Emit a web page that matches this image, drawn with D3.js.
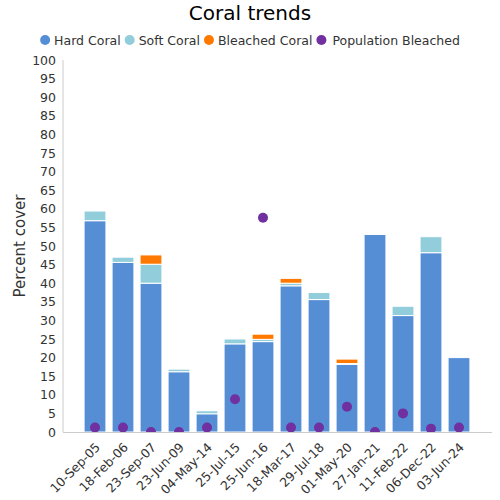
<!DOCTYPE html>
<html><head><meta charset="utf-8">
<script src="https://cdn.jsdelivr.net/npm/d3@7"></script>
<style>body{margin:0;background:#fff}svg{display:block;font-family:"DejaVu Sans",sans-serif}</style>
</head><body><svg id="c" width="500" height="500"></svg>
<script>
const categories=["10-Sep-05","18-Feb-06","23-Sep-07","23-Jun-09","04-May-14","25-Jul-15","25-Jun-16","18-Mar-17","29-Jul-18","01-May-20","27-Jan-21","11-Feb-22","06-Dec-22","03-Jun-24"];
const hardCoral=[56.8,45.6,40.0,16.2,4.9,23.7,24.3,39.3,35.6,18.2,53.1,31.3,48.2,20.0];
const softCoral=[2.6,1.4,5.1,0.7,0.8,1.3,0.6,0.7,1.9,0.2,0,2.5,4.3,0];
const bleachedCoral=[0,0,2.5,0,0,0,1.4,1.3,0,1.2,0,0,0,0];
const populationBleached=[1.2,1.2,0,0,1.2,8.8,57.6,1.2,1.2,6.8,0,5.0,0.9,1.2];
const yTicks=d3.range(0,101,5);
const seriesNames=["Hard Coral","Soft Coral","Bleached Coral","Population Bleached"];
const colors=["#558ed5","#92cddc","#ff7800","#7030a0"];

const svg=d3.select("#c");
const L=63,R=492,T=60,B=432;
const x=d3.scaleBand().domain(categories).range([81,473]).paddingInner(0.22).paddingOuter(0.11);
const y=d3.scaleLinear().domain([0,100]).range([B,T]);

svg.append("defs").append("clipPath").attr("id","pc").append("rect").attr("x",L).attr("y",T-10).attr("width",R-L).attr("height",B-T+10);

// title
svg.append("text").attr("x",250).attr("y",20).attr("text-anchor","middle").attr("font-size",20).attr("fill","#000").text("Coral trends");

// legend
const lg=svg.append("g");
let lx=0;
seriesNames.forEach((n,i)=>{
  const g=lg.append("g").attr("transform",`translate(${lx},0)`);
  g.append("circle").attr("cx",5).attr("cy",0).attr("r",5).attr("fill",colors[i]);
  const off=i===3?16:14;
  const t=g.append("text").attr("x",off).attr("y",4.5).attr("font-size",12.5).attr("fill","#333").text(n);
  lx+= off+t.node().getComputedTextLength()+4;
});
lg.attr("transform",`translate(${250-(lx-4)/2},40)`);

// y axis
const ya=svg.append("g");
ya.append("line").attr("x1",L).attr("x2",L).attr("y1",T).attr("y2",B).attr("stroke","#ccc");
yTicks.forEach(v=>{
  ya.append("text").attr("x",56).attr("y",y(v)+4.5).attr("text-anchor","end").attr("font-size",12.5).attr("fill","#333").text(v);
});
svg.append("text").attr("transform",`translate(25,${(T+B)/2}) rotate(-90)`).attr("text-anchor","middle").attr("font-size",15).attr("fill","#333").text("Percent cover");

// stacked bars
const stackData=categories.map((c,i)=>({cat:c,hard:hardCoral[i],soft:softCoral[i],bleached:bleachedCoral[i]}));
const stack=d3.stack().keys(["hard","soft","bleached"])(stackData);
const bars=svg.append("g");
stack.forEach((s,si)=>{
  bars.selectAll(null).data(s).enter().append("rect")
    .attr("x",d=>x(d.data.cat)).attr("width",x.bandwidth())
    .attr("y",d=>y(d[1])).attr("height",d=>Math.max(0,y(d[0])-y(d[1])))
    .attr("fill",colors[si]).attr("stroke",d=>(d[1]-d[0])>0?"#fff":"none").attr("stroke-width",1);
});

// x axis line
svg.append("line").attr("x1",L).attr("x2",R).attr("y1",B+0.5).attr("y2",B+0.5).attr("stroke","#ccc");

// x labels
categories.forEach(c=>{
  const cx=x(c)+x.bandwidth()/2;
  svg.append("text").attr("transform",`translate(${cx+6},${B+16}) rotate(-45)`).attr("text-anchor","end").attr("font-size",12.5).attr("fill","#333").text(c);
});

// points
svg.append("g").attr("clip-path","url(#pc)").selectAll("circle").data(populationBleached).enter().append("circle")
  .attr("cx",(d,i)=>x(categories[i])+x.bandwidth()/2).attr("cy",d=>y(d)).attr("r",5).attr("fill",colors[3]);
</script></body></html>
